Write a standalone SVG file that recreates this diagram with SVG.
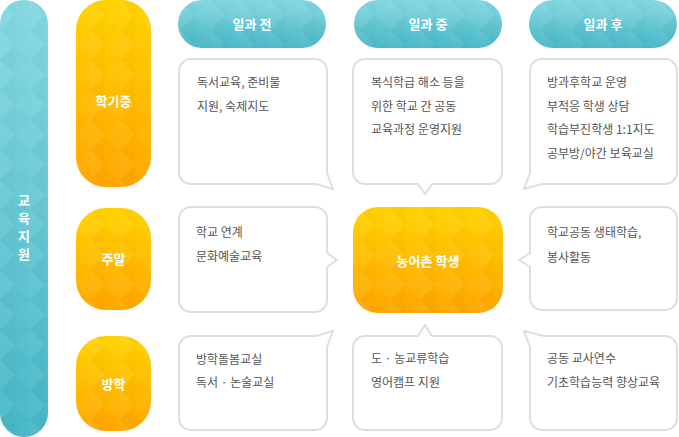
<svg xmlns="http://www.w3.org/2000/svg" width="679" height="437" viewBox="0 0 679 437">
<style>
.t{font-family:"Noto Sans CJK KR","Noto Sans",sans-serif;font-size:12px;fill:#555}
.w{font-family:"Noto Sans CJK KR","Noto Sans",sans-serif;font-size:13px;font-weight:bold;fill:#fff;text-anchor:middle}
.bub{fill:#fff;stroke:#dedede;stroke-width:2;stroke-linejoin:round}
.teal{fill:url(#gT)}
.org{fill:url(#gO)}
.pat{fill:url(#pat)}
</style>
<defs>
<linearGradient id="gT" x1="0" y1="0" x2="0" y2="1">
<stop offset="0" stop-color="#84d7e0"/><stop offset="1" stop-color="#46b6c6"/>
</linearGradient>
<linearGradient id="gO" x1="0" y1="0" x2="0" y2="1">
<stop offset="0" stop-color="#ffd200"/><stop offset="1" stop-color="#ffa600"/>
</linearGradient>
<pattern id="pat" width="30" height="30" patternUnits="userSpaceOnUse">
<path d="M0,0 L15,15 L0,30 Z" fill="#fff" opacity="0.06"/>
<path d="M15,15 L30,0 L30,30 Z" fill="#fff" opacity="0.035"/>
<path d="M0,0 L15,0 L15,15 Z" fill="#000" opacity="0.015"/>
<path d="M15,15 L15,30 L0,30 Z" fill="#000" opacity="0.015"/>
</pattern>
</defs>

<g id="edu-support">
<rect class="teal" x="0" y="0" width="48" height="437" rx="24"/>
<rect class="pat" x="0" y="0" width="48" height="437" rx="24"/>
<g class="w" style="font-size:13px">
<text x="24" y="205">교</text>
<text x="24" y="223">육</text>
<text x="24" y="241">지</text>
<text x="24" y="259">원</text>
</g>
</g>

<g id="head-before">
<rect class="teal" x="178" y="0" width="148" height="48" rx="24"/>
<rect class="pat" x="178" y="0" width="148" height="48" rx="24"/>
<text class="w" x="252" y="29">일과 전</text>
</g>
<g id="head-during">
<rect class="teal" x="354" y="0" width="148" height="48" rx="24"/>
<rect class="pat" x="354" y="0" width="148" height="48" rx="24"/>
<text class="w" x="428" y="29">일과 중</text>
</g>
<g id="head-after">
<rect class="teal" x="529" y="0" width="148" height="48" rx="24"/>
<rect class="pat" x="529" y="0" width="148" height="48" rx="24"/>
<text class="w" x="603" y="29">일과 후</text>
</g>

<g id="row-semester">
<rect class="org" x="76" y="0" width="75" height="187" rx="30"/>
<rect class="pat" x="76" y="0" width="75" height="187" rx="30"/>
<text class="w" x="113.5" y="106">학기중</text>
</g>
<g id="row-weekend">
<rect class="org" x="76" y="208" width="75" height="102" rx="30"/>
<rect class="pat" x="76" y="208" width="75" height="102" rx="30"/>
<text class="w" x="113.5" y="264">주말</text>
</g>
<g id="row-vacation">
<rect class="org" x="76" y="336" width="75" height="95" rx="30"/>
<rect class="pat" x="76" y="336" width="75" height="95" rx="30"/>
<text class="w" x="113.5" y="389">방학</text>
</g>

<g id="center-students">
<rect class="org" x="353" y="207" width="150" height="106" rx="25"/>
<rect class="pat" x="353" y="207" width="150" height="106" rx="25"/>
<text class="w" x="428" y="266">농어촌 학생</text>
</g>

<g id="connectors">
<g id="b-sem-before">
<path class="bub" d="M191,59 H315 A12,12 0 0 1 327,71 V173 L333,189 L316,184 H191 A12,12 0 0 1 179,172 V71 A12,12 0 0 1 191,59 Z"/>
<text class="t" x="197" y="87">독서교육, 준비물</text>
<text class="t" x="197" y="110.5">지원, 숙제지도</text>
</g>
<g id="b-sem-during">
<path class="bub" d="M365,59 H490 A12,12 0 0 1 502,71 V172 A12,12 0 0 1 490,184 H432 L425,194 L418,184 H365 A12,12 0 0 1 353,172 V71 A12,12 0 0 1 365,59 Z"/>
<text class="t" x="371" y="87">복식학급 해소 등을</text>
<text class="t" x="371" y="110.5">위한 학교 간 공동</text>
<text class="t" x="371" y="134">교육과정 운영지원</text>
</g>
<g id="b-sem-after">
<path class="bub" d="M542,59 H665 A12,12 0 0 1 677,71 V172 A12,12 0 0 1 665,184 H542 L524,189 L530,173 V71 A12,12 0 0 1 542,59 Z"/>
<text class="t" x="547" y="87">방과후학교 운영</text>
<text class="t" x="547" y="110.5">부적응 학생 상담</text>
<text class="t" x="547" y="134">학습부진학생 1:1지도</text>
<text class="t" x="547" y="157.5">공부방/야간 보육교실</text>
</g>
<g id="b-wk-before">
<path class="bub" d="M191,207 H315 A12,12 0 0 1 327,219 V253 L337,260 L327,267 V300 A12,12 0 0 1 315,312 H191 A12,12 0 0 1 179,300 V219 A12,12 0 0 1 191,207 Z"/>
<text class="t" x="196" y="237">학교 연계</text>
<text class="t" x="196" y="260.5">문화예술교육</text>
</g>
<g id="b-wk-after">
<path class="bub" d="M542,207 H665 A12,12 0 0 1 677,219 V298 A12,12 0 0 1 665,310 H542 A12,12 0 0 1 530,298 V267 L519,260 L530,253 V219 A12,12 0 0 1 542,207 Z"/>
<text class="t" x="547" y="237">학교공동 생태학습,</text>
<text class="t" x="547" y="261.5">봉사활동</text>
</g>
<g id="b-vac-before">
<path class="bub" d="M191,336 H316 L333,331 L327,347 V418 A12,12 0 0 1 315,430 H191 A12,12 0 0 1 179,418 V348 A12,12 0 0 1 191,336 Z"/>
<text class="t" x="196" y="363.5">방학돌봄교실</text>
<text class="t" x="196" y="386.5">독서 · 논술교실</text>
</g>
<g id="b-vac-during">
<path class="bub" d="M365,336 H418 L425,325 L432,336 H490 A12,12 0 0 1 502,348 V418 A12,12 0 0 1 490,430 H365 A12,12 0 0 1 353,418 V348 A12,12 0 0 1 365,336 Z"/>
<text class="t" x="371" y="362.5">도 · 농교류학습</text>
<text class="t" x="371" y="386.5">영어캠프 지원</text>
</g>
<g id="b-vac-after">
<path class="bub" d="M544,336 H665 A12,12 0 0 1 677,348 V418 A12,12 0 0 1 665,430 H542 A12,12 0 0 1 530,418 V347 L524,331 Z"/>
<text class="t" x="547" y="362.5">공동 교사연수</text>
<text class="t" x="547" y="386.5">기초학습능력 향상교육</text>
</g>
</g>
</svg>
